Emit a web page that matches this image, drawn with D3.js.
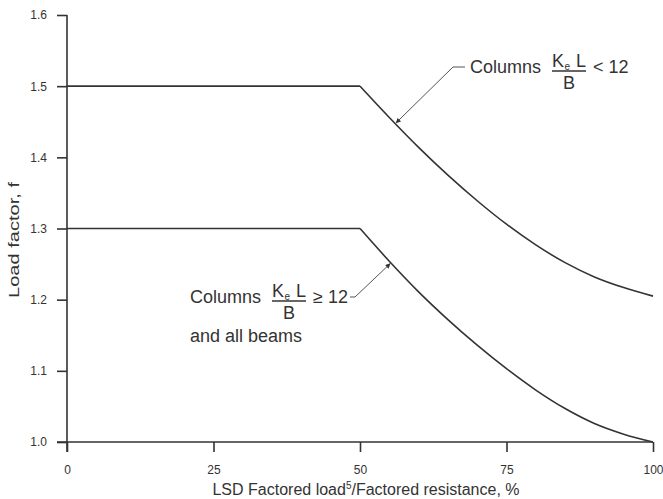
<!DOCTYPE html>
<html>
<head>
<meta charset="utf-8">
<script src="https://cdn.jsdelivr.net/npm/d3@7/dist/d3.min.js"></script>
<style>
  html, body { margin: 0; padding: 0; background: #ffffff; }
  svg { display: block; font-family: "Liberation Sans", Arial, Helvetica, sans-serif; }
  text { fill: #333; }
</style>
</head>
<body>
<svg id="chart" width="663" height="499"></svg>
<script>
// ---- data ----
const pct = [0, 50, 55, 60, 65, 70, 75, 80, 85, 90, 95, 100];
const upperF = [1.5, 1.5, 1.456, 1.414, 1.375, 1.339, 1.306, 1.277, 1.252, 1.232, 1.217, 1.205];
const lowerF = [1.3, 1.3, 1.254, 1.211, 1.172, 1.136, 1.103, 1.073, 1.047, 1.026, 1.011, 1.000];
const xTicks = [0, 25, 50, 75, 100];
const yTicks = [1.0, 1.1, 1.2, 1.3, 1.4, 1.5, 1.6];
const xTitle = "LSD Factored load";
const xTitleSup = "5";
const xTitleEnd = "/Factored resistance, %";
const yTitle = "Load factor, f";

const svg = d3.select("#chart");
const ink = "#333";

const x = d3.scaleLinear().domain([0, 100]).range([67, 653]);
const y = d3.scaleLinear().domain([1.0, 1.6]).range([442, 15]);

// axes
const xAxis = d3.axisBottom(x).tickValues(xTicks).tickSize(10).tickPadding(13).tickFormat(d3.format("d"));
const yAxis = d3.axisLeft(y).tickValues(yTicks).tickSize(10).tickPadding(10).tickFormat(d3.format(".1f"));

const gx = svg.append("g").attr("transform", `translate(0,${y(1.0)})`).call(xAxis);
const gy = svg.append("g").attr("transform", `translate(${x(0)},0)`).call(yAxis);
[gx, gy].forEach(g => {
  g.select(".domain").remove();
  g.selectAll(".tick line").attr("stroke", ink).attr("stroke-width", 1.6);
  g.selectAll(".tick text").attr("fill", ink).style("font-size", "12px")
    .style("font-family", "'Liberation Sans', Arial, sans-serif");
});
// axis lines
svg.append("line").attr("x1", x(0)).attr("x2", x(0)).attr("y1", y(1.6)).attr("y2", y(1.0) + 10)
  .attr("stroke", ink).attr("stroke-width", 1.6);
svg.append("line").attr("x1", x(0) - 10).attr("x2", x(100)).attr("y1", y(1.0)).attr("y2", y(1.0))
  .attr("stroke", ink).attr("stroke-width", 1.6);

// curves: flat part linear, descending part smooth
function drawCurve(vals) {
  const pts = pct.map((p, i) => [p, vals[i]]);
  const flat = d3.line().x(d => x(d[0])).y(d => y(d[1]));
  const smooth = d3.line().x(d => x(d[0])).y(d => y(d[1])).curve(d3.curveMonotoneX);
  svg.append("path").attr("d", flat(pts.slice(0, 2))).attr("fill", "none").attr("stroke", ink).attr("stroke-width", 1.6);
  svg.append("path").attr("d", smooth(pts.slice(1))).attr("fill", "none").attr("stroke", ink).attr("stroke-width", 1.6);
}
drawCurve(upperF);
drawCurve(lowerF);

// axis titles
const xt = svg.append("text").attr("x", 366).attr("y", 495).attr("text-anchor", "middle")
  .style("font-size", "16px");
xt.append("tspan").text(xTitle);
xt.append("tspan").attr("dy", -6).style("font-size", "10px").text(xTitleSup);
xt.append("tspan").attr("dy", 6).text(xTitleEnd);

svg.append("text").attr("transform", "translate(19,240) rotate(-90)").attr("text-anchor", "middle")
  .style("font-size", "14px").attr("textLength", 116).attr("lengthAdjust", "spacingAndGlyphs").text(yTitle);

// arrow marker
svg.append("defs").append("marker").attr("id", "arr").attr("viewBox", "0 0 10 10")
  .attr("refX", 10).attr("refY", 5).attr("markerWidth", 7).attr("markerHeight", 5)
  .attr("orient", "auto").attr("markerUnits", "userSpaceOnUse")
  .append("path").attr("d", "M0,0 L10,5 L0,10 z").attr("fill", ink);

// annotation labels
function fractionLabel(cx, base, sym) {
  const g = svg.append("g").style("font-size", "18px");
  g.append("text").attr("x", cx).attr("y", base).text("Columns");
  const fx = cx + 82;
  g.append("text").attr("x", fx).attr("y", base - 6).text("K");
  g.append("text").attr("x", fx + 12.5).attr("y", base - 3).style("font-size", "10px").text("e");
  g.append("text").attr("x", fx + 24).attr("y", base - 6).text("L");
  g.append("line").attr("x1", fx).attr("x2", fx + 34).attr("y1", base - 2).attr("y2", base - 2)
    .attr("stroke", ink).attr("stroke-width", 1.4);
  g.append("text").attr("x", fx + 11).attr("y", base + 16).text("B");
  g.append("text").attr("x", fx + 41).attr("y", base).text(sym + " 12");
}
fractionLabel(470, 73, "<");
fractionLabel(190, 303, "≥");
svg.append("text").attr("x", 190).attr("y", 342).style("font-size", "18px").text("and all beams");

// leader lines (tips anchored to curve positions)
const tipU = [x(56.1), y(1.448)];
const tipL = [x(55.2), y(1.251)];
svg.append("path").attr("d", `M465,67 L453,67 L${tipU[0]},${tipU[1]}`)
  .attr("fill", "none").attr("stroke", "#555").attr("stroke-width", 1).attr("marker-end", "url(#arr)");
svg.append("path").attr("d", `M350,297 L355,297 L${tipL[0]},${tipL[1]}`)
  .attr("fill", "none").attr("stroke", "#555").attr("stroke-width", 1).attr("marker-end", "url(#arr)");
</script>
</body>
</html>
